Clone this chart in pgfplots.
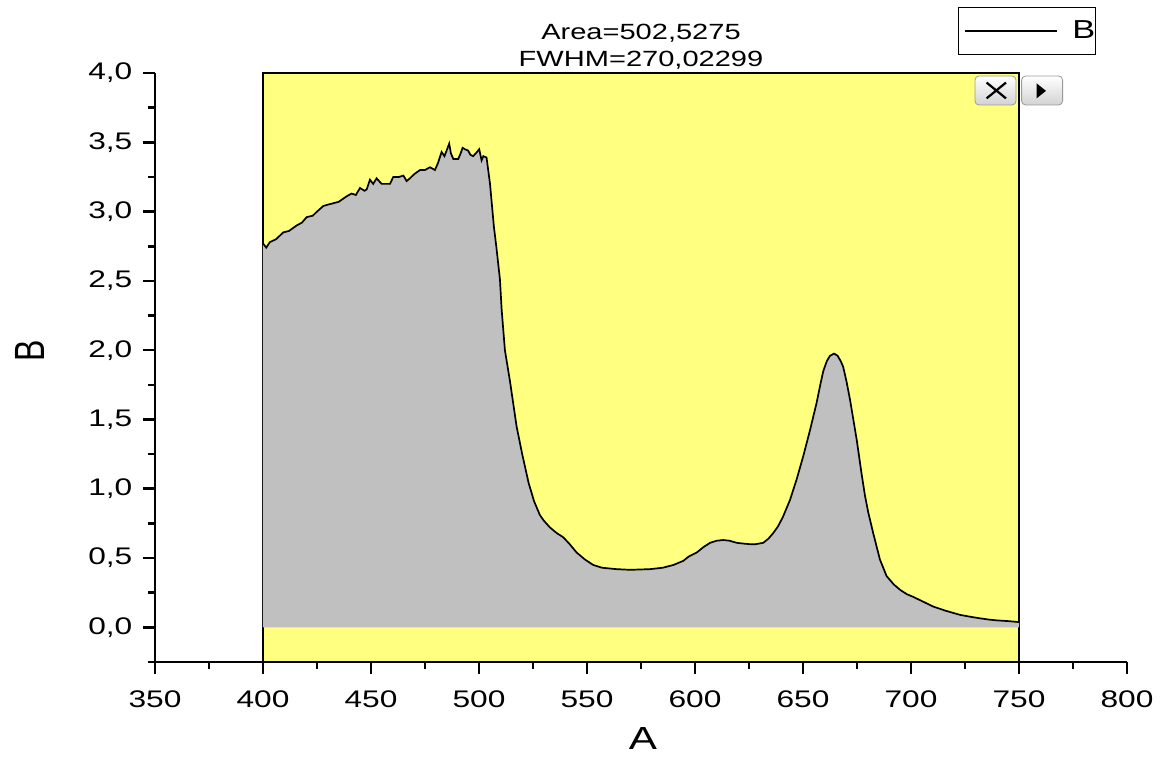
\documentclass[border=0pt]{standalone}
\usepackage{fontspec}
\setmainfont{Liberation Sans}[FakeStretch=1.32]
\newfontfamily\plainsans{Liberation Sans}
\usepackage{pgfplots}
\usepackage{pgfplotstable}
\pgfplotsset{compat=1.18}
\definecolor{bgyellow}{RGB}{255,255,128}
\definecolor{fillgray}{RGB}{192,192,192}

\pgfplotstableread{
x y
400 2.77
401.5 2.74
403.2 2.78
406 2.80
409.4 2.85
412 2.86
415.6 2.90
418 2.92
420.2 2.96
423 2.97
425 3.00
427.9 3.04
430 3.05
432.5 3.06
435 3.07
438.7 3.11
441 3.13
443 3.12
444.9 3.17
447 3.15
448 3.16
449.5 3.23
451 3.20
452.6 3.24
454.9 3.20
458.8 3.20
460.3 3.25
463 3.25
465 3.26
466.5 3.22
468 3.24
470 3.27
472.7 3.30
475 3.30
477.3 3.32
479.6 3.30
481 3.35
482.7 3.43
484 3.40
485 3.44
486.2 3.49
487 3.42
488.1 3.38
490.4 3.38
491.5 3.42
492.4 3.46
493.5 3.45
495 3.44
496 3.41
497.3 3.40
498.5 3.42
500.1 3.45
501.2 3.37
502 3.40
503.5 3.39
505.1 3.20
506.9 2.89
508 2.75
509.7 2.51
510.5 2.29
512 2.00
514.4 1.77
517.4 1.45
520 1.25
523 1.04
525.5 0.91
528.2 0.81
530 0.77
532.9 0.72
536 0.68
539 0.65
542 0.60
545.2 0.54
549 0.49
552.9 0.45
557 0.43
563.7 0.42
570 0.415
579.2 0.42
585 0.43
590 0.45
594.6 0.48
597 0.51
600.8 0.54
604 0.58
607 0.61
610 0.625
613.1 0.63
616 0.625
619.3 0.61
622 0.605
625.5 0.60
628 0.60
631.6 0.61
634 0.64
636.2 0.68
638.5 0.73
640.8 0.80
644 0.92
647.1 1.07
650.2 1.24
653.2 1.42
656.3 1.62
658 1.75
659.4 1.85
661 1.92
662.5 1.96
664.4 1.975
666 1.96
667.5 1.92
668.6 1.88
670.2 1.77
671.8 1.64
674.9 1.35
677.1 1.11
678.7 0.95
680.2 0.83
682.5 0.68
685.6 0.49
688.7 0.37
692 0.31
695 0.27
698 0.24
701 0.22
705 0.19
710.3 0.15
716 0.12
722.7 0.09
728 0.075
732 0.065
736.6 0.055
740 0.05
745 0.045
750 0.038
}\curve

\begin{document}
\begin{tikzpicture}
\useasboundingbox (-77.5pt,-48pt) rectangle (505.5pt,331pt);
\begin{axis}[
  scale only axis, width=486pt, height=294.5pt,
  xmin=350, xmax=800, ymin=-0.25, ymax=4,
  axis lines*=left,
  axis line style={line width=1.3pt},
  tick align=outside, major tick length=6pt, minor tick length=3.5pt,
  every tick/.style={black, line width=1.3pt},
  xtick={350,400,...,800}, ytick={0,0.5,...,4},
  minor xtick={375,425,...,775}, minor ytick={-0.25,0.25,...,3.75},
  /pgf/number format/assume math mode=true,
  tick label style={font=\fontsize{12}{14}\selectfont},
  yticklabel style={/pgf/number format/.cd, use comma, fixed, fixed zerofill, precision=1},
  xticklabel style={/pgf/number format/.cd, fixed, precision=0, 1000 sep={}},
  xticklabel shift=5pt, yticklabel shift=1.8pt,
  xlabel={A}, ylabel={B},
  xlabel style={at={(axis description cs:0.502,-0.1494)}, anchor=base, font=\fontsize{16}{18}\selectfont},
  ylabel style={at={(axis description cs:-0.1290,0.528)}, anchor=center, font=\plainsans\fontsize{16}{18}\selectfont, yscale=1.32},
  legend style={at={(axis description cs:0.8261,1.1121)}, anchor=north west, draw=black, line width=0.6pt, font=\fontsize{13}{15}\selectfont, inner xsep=3pt, inner ysep=4.5pt},
  legend image code/.code={\draw[#1] (0pt,0pt) -- (46pt,0pt);},
  axis on top,
  clip=false,
]
\addplot[draw=black, line width=0.6pt, fill=bgyellow, forget plot] coordinates {(400,-0.25) (400,4) (750,4) (750,-0.25)} -- cycle;
\addplot[draw=none, fill=fillgray, forget plot] table {\curve} \closedcycle;
\addplot[black, line width=0.85pt] table {\curve};
\addlegendentry{\hspace*{5pt}B\hspace*{-5pt}}
\end{axis}
\node[anchor=base, font=\fontsize{11}{13}\selectfont] at (243pt,311.35pt) {Area=502,5275};
\node[anchor=base, font=\fontsize{11}{13}\selectfont] at (243pt,297.65pt) {FWHM=270,02299};
\draw[rounded corners=2pt, draw=gray!80, top color=white, bottom color=gray!35] (410pt,278.5pt) rectangle (430.5pt,293pt);
\draw[line width=1.1pt] (415.8pt,281.8pt) -- (425.5pt,289.7pt) (415.8pt,289.7pt) -- (425.5pt,281.8pt);
\draw[rounded corners=2pt, draw=gray!80, top color=white, bottom color=gray!35] (433.3pt,278.5pt) rectangle (453.8pt,293pt);
\fill[black] (440.8pt,281.8pt) -- (440.8pt,289.3pt) -- (445.5pt,285.55pt) -- cycle;
\end{tikzpicture}
\end{document}
